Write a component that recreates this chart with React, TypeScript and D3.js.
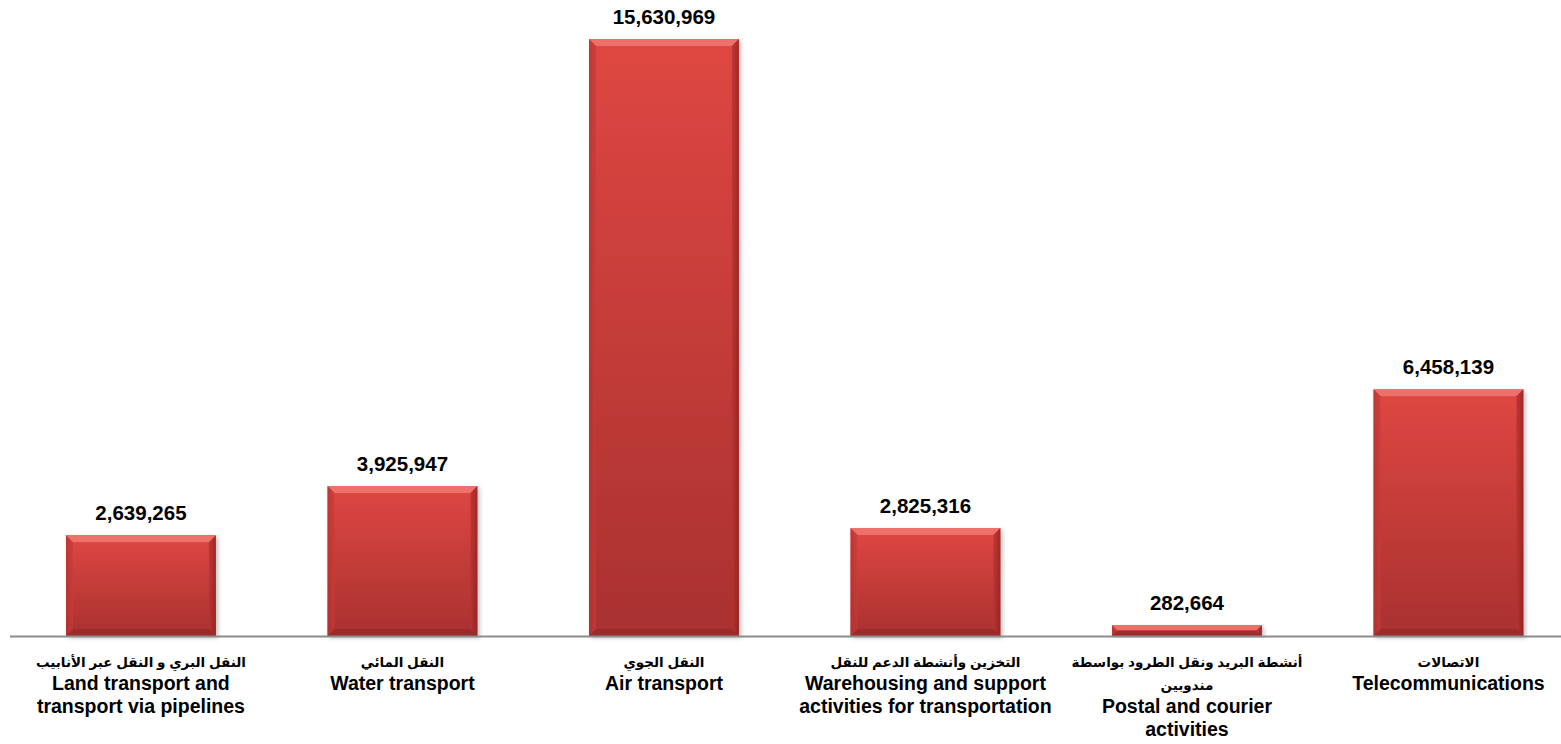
import React from "react";
import * as d3 from "d3";

const categoriesAr: string[][] = [
  ["النقل البري و النقل عبر الأنابيب"],
  ["النقل المائي"],
  ["النقل الجوي"],
  ["التخزين وأنشطة الدعم للنقل"],
  ["أنشطة البريد ونقل الطرود بواسطة", "مندوبين"],
  ["الاتصالات"],
];
const categoriesEn: string[][] = [
  ["Land transport and", "transport via pipelines"],
  ["Water transport"],
  ["Air transport"],
  ["Warehousing and support", "activities for transportation"],
  ["Postal and courier", "activities"],
  ["Telecommunications"],
];
const values: number[] = [2639265, 3925947, 15630969, 2825316, 282664, 6458139];

const W = 1561;
const H = 744;
const baseY = 636;
const topY = 39;
const x0 = 10.2;
const step = 261.5;

export default function App() {
  const ids = values.map((_, i) => i);
  const x = d3
    .scaleBand<number>()
    .domain(ids)
    .range([x0, x0 + step * ids.length])
    .paddingInner(0.427)
    .paddingOuter(0.2135);
  const y = d3.scaleLinear().domain([0, 15630969]).range([baseY, topY]);
  const fmt = d3.format(",");
  const font = "Arial, 'Liberation Sans', 'DejaVu Sans', sans-serif";
  const bw = x.bandwidth();

  return (
    <svg
      width={W}
      height={H}
      style={{ position: "absolute", left: 0, top: 0, display: "block" }}
    >
      <defs>
        <linearGradient id="face" x1="0" y1="0" x2="0" y2="1">
          <stop offset="0" stopColor="#df4742" />
          <stop offset="1" stopColor="#a93130" />
        </linearGradient>
        <linearGradient id="sideL" x1="0" y1="0" x2="1" y2="0">
          <stop offset="0" stopColor="#b3302e" />
          <stop offset="1" stopColor="#c83c39" />
        </linearGradient>
        <linearGradient id="sideR" x1="0" y1="0" x2="1" y2="0">
          <stop offset="0" stopColor="#b73330" />
          <stop offset="1" stopColor="#8f2322" />
        </linearGradient>
        <filter id="sh" x="-10%" y="-10%" width="120%" height="120%">
          <feDropShadow dx="2" dy="2" stdDeviation="2" floodColor="#000" floodOpacity="0.25" />
        </filter>
      </defs>
      <rect x={0} y={0} width={W} height={H} fill="#ffffff" />
      {ids.map((i) => {
        const bx = x(i)!;
        const by = y(values[i]);
        const h = baseY - by;
        const b = Math.min(7, h / 2);
        return (
          <g key={i} filter="url(#sh)">
            <rect x={bx} y={by} width={bw} height={h} fill="url(#face)" />
            <polygon
              points={`${bx},${by} ${bx + bw},${by} ${bx + bw - b},${by + b} ${bx + b},${by + b}`}
              fill="#ee7670"
              opacity={0.9}
            />
            <polygon
              points={`${bx},${by} ${bx + b},${by + b} ${bx + b},${baseY - b} ${bx},${baseY}`}
              fill="url(#sideL)"
              opacity={0.7}
            />
            <polygon
              points={`${bx + bw},${by} ${bx + bw - b},${by + b} ${bx + bw - b},${baseY - b} ${bx + bw},${baseY}`}
              fill="url(#sideR)"
              opacity={0.8}
            />
            <polygon
              points={`${bx},${baseY} ${bx + b},${baseY - b} ${bx + bw - b},${baseY - b} ${bx + bw},${baseY}`}
              fill="#9a2a28"
              opacity={0.8}
            />
          </g>
        );
      })}
      <line x1={10} x2={W} y1={baseY + 0.5} y2={baseY + 0.5} stroke="#8c8c8c" strokeWidth={2} />
      {ids.map((i) => {
        const cx = x(i)! + bw / 2;
        return (
          <text
            key={"v" + i}
            x={cx}
            y={y(values[i]) - 15}
            textAnchor="middle"
            fontFamily={font}
            fontWeight="bold"
            fontSize={20.5}
            fill="#000"
          >
            {fmt(values[i])}
          </text>
        );
      })}
      {ids.map((i) => {
        const cx = x(i)! + bw / 2;
        const lines: { t: string; ar: boolean }[] = [
          ...categoriesAr[i].map((t) => ({ t, ar: true })),
          ...categoriesEn[i].map((t) => ({ t, ar: false })),
        ];
        return (
          <g key={"c" + i}>
            {lines.map((l, j) => (
              <text
                key={j}
                x={cx}
                y={667 + j * 23}
                textAnchor="middle"
                fontFamily={font}
                fontWeight="bold"
                fontSize={l.ar ? 13.5 : 19.5}
                direction={l.ar ? "rtl" : "ltr"}
                fill="#000"
              >
                {l.t}
              </text>
            ))}
          </g>
        );
      })}
    </svg>
  );
}
